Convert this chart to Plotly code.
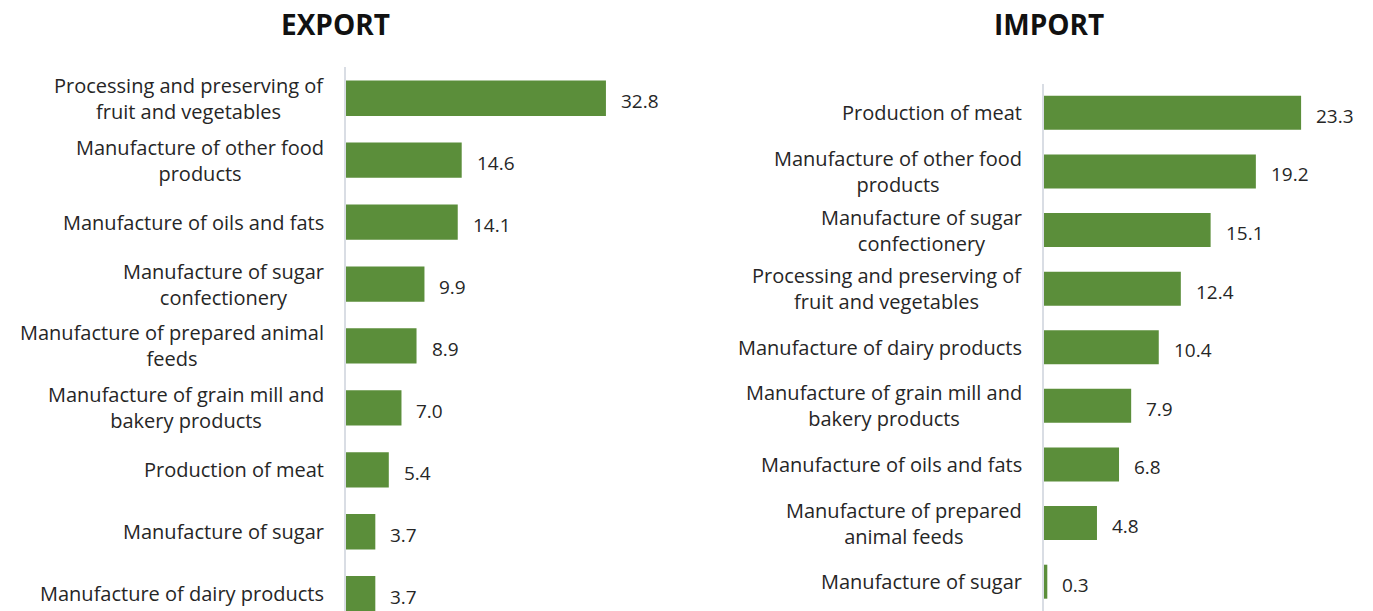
import plotly.graph_objects as go

# Export shares by food-industry branch (%)
export_categories = [
    "Processing and preserving of<br>fruit and vegetables",
    "Manufacture of other food<br>products",
    "Manufacture of oils and fats",
    "Manufacture of sugar<br>confectionery",
    "Manufacture of prepared animal<br>feeds",
    "Manufacture of grain mill and<br>bakery products",
    "Production of meat",
    "Manufacture of sugar",
    "Manufacture of dairy products",
]
export_values = [32.8, 14.6, 14.1, 9.9, 8.9, 7.0, 5.4, 3.7, 3.7]

# Import shares by food-industry branch (%)
import_categories = [
    "Production of meat",
    "Manufacture of other food<br>products",
    "Manufacture of sugar<br>confectionery",
    "Processing and preserving of<br>fruit and vegetables",
    "Manufacture of dairy products",
    "Manufacture of grain mill and<br>bakery products",
    "Manufacture of oils and fats",
    "Manufacture of prepared<br>animal feeds",
    "Manufacture of sugar",
]
import_values = [23.3, 19.2, 15.1, 12.4, 10.4, 7.9, 6.8, 4.8, 0.3]

BAR = "#5B8E3A"
TEXT = "#262626"
AXIS = "#D9DDE4"
FONT = "Open Sans"
W, H = 1373, 611

fig = go.Figure()

fig.add_trace(go.Bar(
    x=export_values, y=list(range(len(export_categories))), orientation="h",
    marker=dict(color=BAR, line=dict(width=0)), width=0.57,
    xaxis="x", yaxis="y", hoverinfo="skip", showlegend=False,
))
fig.add_trace(go.Bar(
    x=import_values, y=list(range(len(import_categories))), orientation="h",
    marker=dict(color=BAR, line=dict(width=0)), width=0.58,
    xaxis="x2", yaxis="y2", hoverinfo="skip", showlegend=False,
))

annotations = []
for xa, ya, cats, vals in (("x", "y", export_categories, export_values),
                           ("x2", "y2", import_categories, import_values)):
    for i, (c, v) in enumerate(zip(cats, vals)):
        # category label, lines centred, right edge next to the axis
        annotations.append(dict(
            x=0, y=i, xref=xa, yref=ya, text=c, showarrow=False,
            xanchor="right", yanchor="middle", align="center", xshift=-20,
            font=dict(family=FONT, size=20, color=TEXT),
        ))
        # value label after the bar end
        annotations.append(dict(
            x=v, y=i, xref=xa, yref=ya, text=f"{v:.1f}", showarrow=False,
            xanchor="left", yanchor="middle", xshift=13, yshift=-3,
            font=dict(family=FONT, size=19, color=TEXT),
        ))

annotations += [
    dict(x=335 / W, y=1 - 24 / H, xref="paper", yref="paper", text="<b>EXPORT</b>",
         showarrow=False, xanchor="center", yanchor="middle",
         font=dict(family=FONT, size=28, color="#111111")),
    dict(x=1049 / W, y=1 - 24 / H, xref="paper", yref="paper", text="<b>IMPORT</b>",
         showarrow=False, xanchor="center", yanchor="middle",
         font=dict(family=FONT, size=28, color="#111111")),
]

hidden_x = dict(showgrid=False, zeroline=False, showticklabels=False, showline=False, ticks="")

fig.update_layout(
    width=W, height=H,
    margin=dict(l=0, r=0, t=0, b=0),
    paper_bgcolor="white", plot_bgcolor="white",
    xaxis=dict(domain=[346 / W, 663 / W], range=[0, 40], **hidden_x),
    xaxis2=dict(domain=[1044 / W, 1364 / W], range=[0, 29], **hidden_x),
    yaxis=dict(domain=[0, 1 - 67.3 / H], range=[8.28, -0.5], anchor="x",
               showgrid=False, zeroline=False, showticklabels=False, ticks="",
               showline=True, linecolor=AXIS, linewidth=2),
    yaxis2=dict(domain=[0, 1 - 83.5 / H], range=[8.5, -0.5], anchor="x2",
                showgrid=False, zeroline=False, showticklabels=False, ticks="",
                showline=True, linecolor=AXIS, linewidth=2),
    annotations=annotations,
    bargap=0.43,
)

fig.write_html("out.html")
